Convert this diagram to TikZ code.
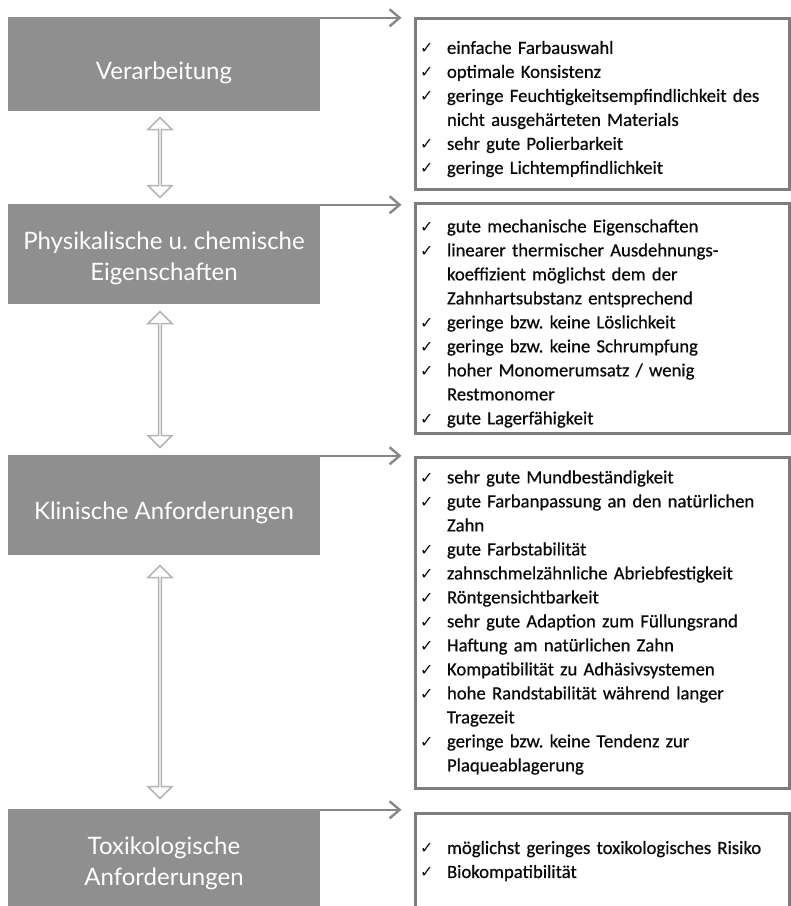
\documentclass[tikz,border=0pt]{standalone}
\usepackage{fontspec}
\setmainfont{Carlito}
\newfontfamily\listfont{Carlito}[FakeBold=0.6]
\newfontfamily\latofont{Lato}
\newfontfamily\djvfont{DejaVu Sans}
\usetikzlibrary{shapes.arrows,arrows.meta,calc}
\definecolor{boxgray}{RGB}{143,143,143}
\definecolor{framegray}{RGB}{125,125,125}
\definecolor{arrgray}{RGB}{135,135,135}
\definecolor{dblgray}{RGB}{180,180,180}
\definecolor{txt}{RGB}{10,10,10}
\newcommand\ck{\makebox[27pt][l]{\djvfont\fontsize{16}{16}\selectfont ✓}}
\newcommand\ind{\hspace*{27pt}}
\newcommand\topgap[1]{\rule{0pt}{#1}}
\frenchspacing
\begin{document}
\begin{tikzpicture}[x=1pt,y=-1pt,
 catbox/.style={fill=boxgray, draw=none, minimum width=312pt, text=white,
   font=\latofont\fontsize{24}{31}\selectfont, align=center, inner sep=0pt},
 listbox/.style={draw=framegray, line width=3pt, fill=white, minimum width=374pt,
   text width=364pt, inner xsep=5pt, inner ysep=0pt, align=left,
   font=\listfont\fontsize{18.7}{24}\selectfont, text=txt},
 harrow/.style={draw=arrgray, line width=2.4pt, -{Straight Barb[length=10pt,width=17pt]}, shorten >=12pt},
 dbl/.style={double arrow, draw=dblgray, line width=1.5pt, fill=white, rotate=90,
   minimum width=24pt, double arrow head extend=6pt, double arrow tip angle=90, inner sep=0pt}
]
\clip (0,0) rectangle (791,906);
\fill[white] (0,0) rectangle (791,906);

% category boxes
\node[catbox, minimum height=94pt]  (g1) at (164,64)  {\raisebox{-15pt}[0pt][0pt]{Verarbeitung}};
\node[catbox, minimum height=100pt] (g2) at (164,254) {\raisebox{-11pt}[0pt][0pt]{\begin{tabular}{@{}c@{}}Physikalische u. chemische\\Eigenschaften\end{tabular}}};
\node[catbox, minimum height=100pt] (g3) at (164,505) {\raisebox{-14.5pt}[0pt][0pt]{Klinische Anforderungen}};
\node[catbox, minimum height=104pt] (g4) at (164,861) {\raisebox{-9.5pt}[0pt][0pt]{\begin{tabular}{@{}c@{}}Toxikologische\\Anforderungen\end{tabular}}};

% list boxes
\node[listbox, minimum height=171pt] (r1) at (602,103.5) {%
\ck\topgap{24pt}einfache Farbauswahl\\
\ck optimale Konsistenz\\
\ck geringe Feuchtigkeitsempfindlichkeit des\\
\ind nicht ausgehärteten Materials\\
\ck sehr gute Polierbarkeit\\
\ck geringe Lichtempfindlichkeit};

\node[listbox, minimum height=230pt] (r2) at (602,318) {%
\ck\topgap{24pt}gute mechanische Eigenschaften\\
\ck linearer thermischer Ausdehnungs-\\
\ind koeffizient möglichst dem der\\
\ind Zahnhartsubstanz entsprechend\\
\ck geringe bzw. keine Löslichkeit\\
\ck geringe bzw. keine Schrumpfung\\
\ck hoher Monomerumsatz / wenig\\
\ind Restmonomer\\
\ck gute Lagerfähigkeit};

\node[listbox, minimum height=331pt] (r3) at (602,622.5) {%
\ck sehr gute Mundbeständigkeit\\
\ck gute Farbanpassung an den natürlichen\\
\ind Zahn\\
\ck gute Farbstabilität\\
\ck zahnschmelzähnliche Abriebfestigkeit\\
\ck Röntgensichtbarkeit\\
\ck sehr gute Adaption zum Füllungsrand\\
\ck Haftung am natürlichen Zahn\\
\ck Kompatibilität zu Adhäsivsystemen\\
\ck hohe Randstabilität während langer\\
\ind Tragezeit\\
\ck geringe bzw. keine Tendenz zur\\
\ind Plaqueablagerung};

\node[listbox, minimum height=96pt] (r4) at (602,861) {%
\ck möglichst geringes toxikologisches Risiko\\
\ck Biokompatibilität};

% horizontal arrows
\foreach \i in {1,2,3,4}{
  \draw[harrow] ([yshift=-1pt]g\i.north east) -- ([yshift=-1pt]g\i.north east -| r\i.west);
}

% double arrows between categories
\node[dbl, minimum height=80pt]  (d1) at ($(g1.south)!0.5!(g2.north)+(-4,0)$) {};
\node[dbl, minimum height=136pt] (d2) at ($(g2.south)!0.5!(g3.north)+(-4,0)$) {};
\node[dbl, minimum height=233pt] (d3) at ($(g3.south)!0.5!(g4.north)+(-4,0)$) {};
\end{tikzpicture}
\end{document}
